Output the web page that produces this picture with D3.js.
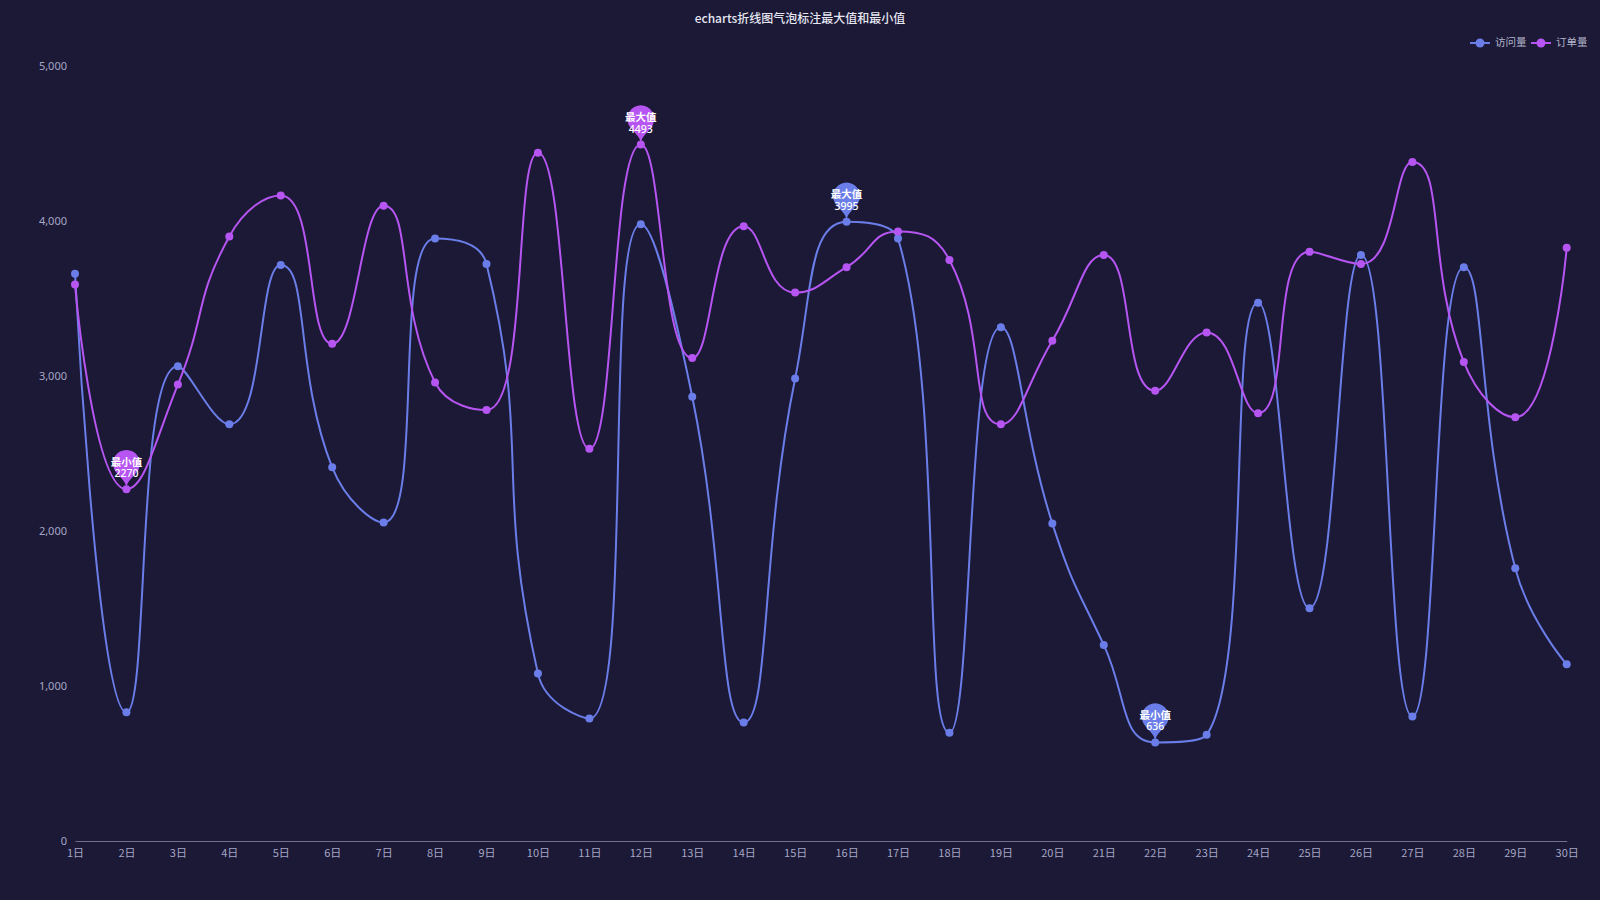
<!DOCTYPE html>
<html>
<head>
<meta charset="utf-8">
<script src="https://cdn.jsdelivr.net/npm/d3@7/dist/d3.min.js"></script>
<style>
  html, body { margin: 0; padding: 0; background: #1b1935; }
  svg { display: block; }
  text { font-family: "Noto Sans CJK SC", "Noto Sans", sans-serif; }
</style>
</head>
<body>
<svg id="chart" width="1600" height="900"></svg>
<script>
const title = "echarts折线图气泡标注最大值和最小值";
const days = ["1日","2日","3日","4日","5日","6日","7日","8日","9日","10日","11日","12日","13日","14日","15日","16日","17日","18日","19日","20日","21日","22日","23日","24日","25日","26日","27日","28日","29日","30日"];
const visits = [3660, 830, 3063, 2688, 3716, 2411, 2055, 3887, 3722, 1080, 790, 3979, 2866, 764, 2984, 3995, 3887, 698, 3314, 2049, 1265, 636, 685, 3472, 1502, 3781, 804, 3702, 1759, 1140];
const orders = [3590, 2270, 2945, 3900, 4164, 3208, 4098, 2958, 2780, 4440, 2530, 4493, 3116, 3966, 3538, 3702, 3933, 3749, 2688, 3228, 3781, 2905, 3281, 2760, 3801, 3722, 4381, 3090, 2734, 3827];
const yTicks = [0, 1000, 2000, 3000, 4000, 5000];
const seriesNames = ["访问量", "订单量"];
const seriesColors = ["#6b7de8", "#b655f2"];
const maxLabel = "最大值", minLabel = "最小值";

const svg = d3.select("#chart");
const W = 1600, H = 900;
svg.append("rect").attr("width", W).attr("height", H).attr("fill", "#1b1935");

const x = d3.scalePoint().domain(days).range([75, 1566.7]);
const y = d3.scaleLinear().domain([0, 5000]).range([841, 66]);

// title
svg.append("text").attr("x", 800).attr("y", 19.5).attr("text-anchor", "middle")
  .attr("dominant-baseline", "middle").attr("fill", "#e6e6f2")
  .attr("font-size", 12).attr("font-weight", 500).text(title);

// y axis
const yAxis = d3.axisLeft(y).tickValues(yTicks).tickFormat(d3.format(",")).tickSize(0).tickPadding(8);
const gy = svg.append("g").attr("transform", "translate(75,0)").call(yAxis);
gy.select(".domain").remove();
gy.selectAll("text").attr("fill", "#a6a6c6").attr("font-size", 11)
  .style("font-family", "'Noto Sans', sans-serif");

// x axis
const xAxis = d3.axisBottom(x).tickSize(0).tickPadding(8);
const gx = svg.append("g").attr("transform", "translate(0,841)").call(xAxis);
gx.select(".domain").attr("stroke", "#6e6e8e").attr("stroke-width", 1);
gx.selectAll("text").attr("fill", "#a6a6c6").attr("font-size", 11)
  .style("font-family", "'Noto Sans CJK SC', sans-serif");

// echarts-like smooth path
function smoothPath(pts, smooth) {
  const p = d3.path();
  let prevX, prevY, cpx0, cpy0, cpx1, cpy1;
  const n = pts.length;
  for (let k = 0; k < n; k++) {
    const [xx, yy] = pts[k];
    if (k === 0) { p.moveTo(xx, yy); cpx0 = xx; cpy0 = yy; }
    else {
      let nextCpx0, nextCpy0;
      if (k + 1 >= n) { cpx1 = xx; cpy1 = yy; nextCpx0 = xx; nextCpy0 = yy; }
      else {
        const [nextX, nextY] = pts[k + 1];
        let vx = nextX - prevX, vy = nextY - prevY;
        const dx0 = xx - prevX, dx1 = nextX - xx, dy0 = yy - prevY, dy1 = nextY - yy;
        const lenPrev = Math.sqrt(dx0 * dx0 + dy0 * dy0);
        const lenNext = Math.sqrt(dx1 * dx1 + dy1 * dy1);
        const ratio = lenNext / (lenNext + lenPrev);
        nextCpx0 = xx + vx * smooth * ratio;
        nextCpy0 = yy + vy * smooth * ratio;
        nextCpx0 = Math.min(nextCpx0, Math.max(nextX, xx));
        nextCpy0 = Math.min(nextCpy0, Math.max(nextY, yy));
        nextCpx0 = Math.max(nextCpx0, Math.min(nextX, xx));
        nextCpy0 = Math.max(nextCpy0, Math.min(nextY, yy));
        vx = nextCpx0 - xx; vy = nextCpy0 - yy;
        cpx1 = xx - vx * lenPrev / lenNext;
        cpy1 = yy - vy * lenPrev / lenNext;
        cpx1 = Math.min(cpx1, Math.max(prevX, xx));
        cpy1 = Math.min(cpy1, Math.max(prevY, yy));
        cpx1 = Math.max(cpx1, Math.min(prevX, xx));
        cpy1 = Math.max(cpy1, Math.min(prevY, yy));
        vx = xx - cpx1; vy = yy - cpy1;
        nextCpx0 = xx + vx * lenNext / lenPrev;
        nextCpy0 = yy + vy * lenNext / lenPrev;
      }
      p.bezierCurveTo(cpx0, cpy0, cpx1, cpy1, xx, yy);
      cpx0 = nextCpx0; cpy0 = nextCpy0;
    }
    prevX = xx; prevY = yy;
  }
  return p.toString();
}

const allSeries = [visits, orders];

// lines
allSeries.forEach((vals, i) => {
  const pts = vals.map((v, j) => [x(days[j]), y(v)]);
  svg.append("path").attr("d", smoothPath(pts, 0.5))
    .attr("fill", "none").attr("stroke", seriesColors[i]).attr("stroke-width", 2);
});
// points
allSeries.forEach((vals, i) => {
  svg.append("g").selectAll("circle").data(vals).join("circle")
    .attr("cx", (d, j) => x(days[j])).attr("cy", d => y(d)).attr("r", 4)
    .attr("fill", seriesColors[i]);
});

// pin builder (echarts 'pin' symbol)
function pinPath(cx, tipY, S) {
  const w = S / 5 * 3;
  const h = Math.max(w, S);
  const r = w / 2;
  const dy = r * r / (h - r);
  const cy = tipY - h + r + dy;
  const angle = Math.asin(dy / r);
  const dx = Math.cos(angle) * r;
  const tanX = Math.sin(angle), tanY = Math.cos(angle);
  const cpLen = r * 0.6, cpLen2 = r * 0.7;
  const p = d3.path();
  p.moveTo(cx - dx, cy + dy);
  p.arc(cx, cy, r, Math.PI - angle, Math.PI * 2 + angle);
  p.bezierCurveTo(cx + dx - tanX * cpLen, cy + dy + tanY * cpLen, cx, tipY - cpLen2, cx, tipY);
  p.bezierCurveTo(cx, tipY - cpLen2, cx - dx + tanX * cpLen, cy + dy + tanY * cpLen, cx - dx, cy + dy);
  p.closePath();
  return { d: p.toString(), top: tipY - h + dy };
}

allSeries.forEach((vals, i) => {
  const maxV = d3.max(vals), minV = d3.min(vals);
  const marks = [
    { label: maxLabel, v: maxV, idx: vals.indexOf(maxV) },
    { label: minLabel, v: minV, idx: vals.indexOf(minV) }
  ];
  marks.forEach(m => {
    const px = x(days[m.idx]), py = y(m.v);
    const pin = pinPath(px, py, 45);
    svg.append("path").attr("d", pin.d).attr("fill", seriesColors[i]);
    const cyText = (pin.top + py) / 2 - 1;
    svg.append("text").attr("text-anchor", "middle").attr("fill", "#ffffff")
      .attr("font-size", 10.5).attr("font-weight", "bold")
      .attr("x", px).attr("y", cyText - 5.6).attr("dominant-baseline", "middle").text(m.label);
    svg.append("text").attr("text-anchor", "middle").attr("fill", "#ffffff")
      .attr("font-size", 10.5).attr("font-weight", 500)
      .attr("x", px).attr("y", cyText + 5.8).attr("dominant-baseline", "middle")
      .style("font-family", "'Noto Sans', sans-serif").text(m.v);
  });
});

// legend
const legendItems = [{ name: seriesNames[0], x0: 1470 }, { name: seriesNames[1], x0: 1531 }];
legendItems.forEach((it, i) => {
  const g = svg.append("g");
  g.append("line").attr("x1", it.x0).attr("x2", it.x0 + 20).attr("y1", 43).attr("y2", 43)
    .attr("stroke", seriesColors[i]).attr("stroke-width", 2);
  g.append("circle").attr("cx", it.x0 + 10).attr("cy", 43).attr("r", 4.5).attr("fill", seriesColors[i]);
  g.append("text").attr("x", it.x0 + 25).attr("y", 43.5).attr("dominant-baseline", "middle")
    .attr("fill", "#b4b4cc").attr("font-size", 10.5).text(it.name);
});
</script>
</body>
</html>
